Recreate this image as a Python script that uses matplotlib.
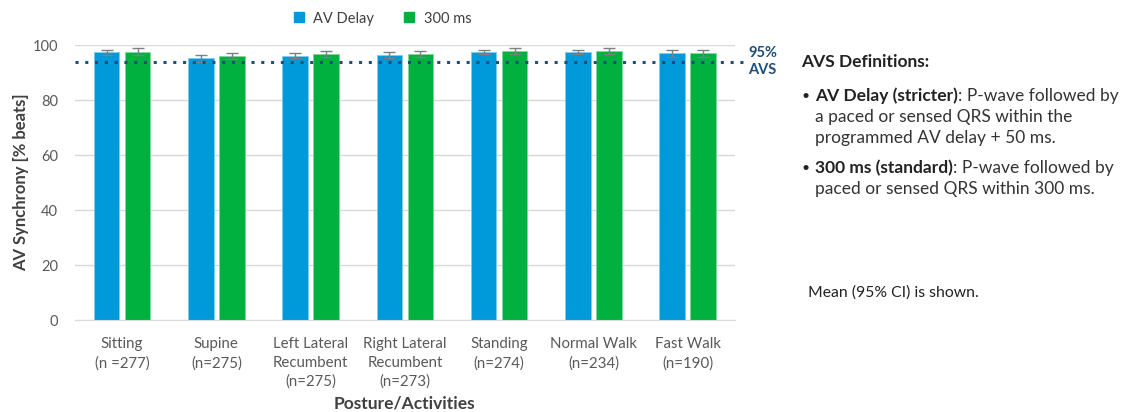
import numpy as np
import matplotlib.pyplot as plt
from matplotlib.lines import Line2D

plt.rcParams['font.family'] = ['Lato', 'DejaVu Sans']

categories = ["Sitting\n(n =277)", "Supine\n(n=275)", "Left Lateral\nRecumbent\n(n=275)",
              "Right Lateral\nRecumbent\n(n=273)", "Standing\n(n=274)", "Normal Walk\n(n=234)",
              "Fast Walk\n(n=190)"]
av_delay = [97.4, 95.3, 96.2, 96.5, 97.7, 97.7, 97.1]
av_delay_ci = [0.9, 1.2, 0.9, 1.0, 0.7, 0.7, 1.3]
ms300 = [97.7, 96.2, 96.8, 96.8, 97.9, 97.9, 97.1]
ms300_ci = [1.2, 1.0, 1.0, 1.1, 1.2, 1.2, 1.3]
avs_threshold = 94.0

blue = "#0099DA"
green = "#00B140"
navy = "#1F4E79"
txt = "#404040"

fig = plt.figure(figsize=(11.24, 4.12), dpi=100)
ax = fig.add_axes([0.0667, 0.223, 0.587, 0.667])

x = np.arange(len(categories))
w = 0.27
off = 0.165
ax.bar(x - off, av_delay, w, color=blue, edgecolor="#7FCBEB", linewidth=0.6, zorder=2)
ax.bar(x + off, ms300, w, color=green, edgecolor="#7FD89F", linewidth=0.6, zorder=2)
ax.errorbar(x - off, av_delay, yerr=av_delay_ci, fmt="none", ecolor="#7F7F7F",
            elinewidth=1, capsize=4, capthick=1, zorder=3, clip_on=False)
ax.errorbar(x + off, ms300, yerr=ms300_ci, fmt="none", ecolor="#7F7F7F",
            elinewidth=1, capsize=4, capthick=1, zorder=3, clip_on=False)
ax.axhline(avs_threshold, color=navy, linestyle=(0, (1, 2.2)), linewidth=2.2,
           xmin=0, xmax=1.02, clip_on=False, zorder=4)

ax.set_xlim(-0.5, len(categories) - 0.5)
ax.set_ylim(0, 100)
ax.set_yticks(np.arange(0, 101, 20))
ax.yaxis.grid(True, color="#D9D9D9", linewidth=1, zorder=0)
ax.set_axisbelow(True)
for s in ["top", "right", "left"]:
    ax.spines[s].set_visible(False)
ax.spines["bottom"].set_color("#D9D9D9")
ax.tick_params(axis="y", length=0, labelsize=10.5, colors="#595959", pad=12)
ax.set_xticks(x)
ax.set_xticklabels(categories, linespacing=1.45)
ax.tick_params(axis="x", length=0, labelsize=10.8, colors="#595959", pad=12)

# axis titles placed in figure coords so nothing gets clipped
fig.text(0.019, 0.557, "AV Synchrony [% beats]", fontsize=12, fontweight="bold", color=txt,
         rotation=90, ha="center", va="center")
fig.text(0.36, 0.02, "Posture/Activities", fontsize=12.5, fontweight="bold", color=txt,
         ha="center", va="center")

ax.text(1.02, avs_threshold, "95%\nAVS", transform=ax.get_yaxis_transform(),
        color=navy, fontsize=10.5, fontweight="bold", va="center", ha="left",
        multialignment="left", linespacing=1.3)

handles = [Line2D([], [], marker="s", linestyle="none", markersize=7.5, color=blue),
           Line2D([], [], marker="s", linestyle="none", markersize=7.5, color=green)]
fig.legend(handles, ["AV Delay", "300 ms"], loc="center", bbox_to_anchor=(0.336, 0.955),
           ncol=2, frameon=False, fontsize=10.5, handletextpad=0.0, columnspacing=1.4,
           labelcolor="#404040")

# right-hand notes
fs = 12.5
fig.text(0.713, 0.85, "AVS Definitions:", fontsize=fs, fontweight="bold", color="#222222",
         va="center")
fig.canvas.draw()
renderer = fig.canvas.get_renderer()


def mixed(y, bold, rest):
    t = fig.text(0.725, y, bold, fontsize=fs, fontweight="bold", color="#222222", va="center")
    bb = t.get_window_extent(renderer)
    fig.text(bb.x1 / fig.bbox.width, y, rest, fontsize=fs, color="#333333", va="center")


fig.text(0.713, 0.767, "\u2022", fontsize=10, color="#222222", va="center")
mixed(0.767, "AV Delay (stricter)", ": P-wave followed by")
fig.text(0.725, 0.716, "a paced or sensed QRS within the", fontsize=fs, color="#333333", va="center")
fig.text(0.725, 0.665, "programmed AV delay + 50 ms.", fontsize=fs, color="#333333", va="center")
fig.text(0.713, 0.593, "\u2022", fontsize=10, color="#222222", va="center")
mixed(0.593, "300 ms (standard)", ": P-wave followed by")
fig.text(0.725, 0.542, "paced or sensed QRS within 300 ms.", fontsize=fs, color="#333333", va="center")
fig.text(0.719, 0.289, "Mean (95% CI) is shown.", fontsize=11.3, color="#222222", va="center")

fig.savefig("out.png", dpi=100)
